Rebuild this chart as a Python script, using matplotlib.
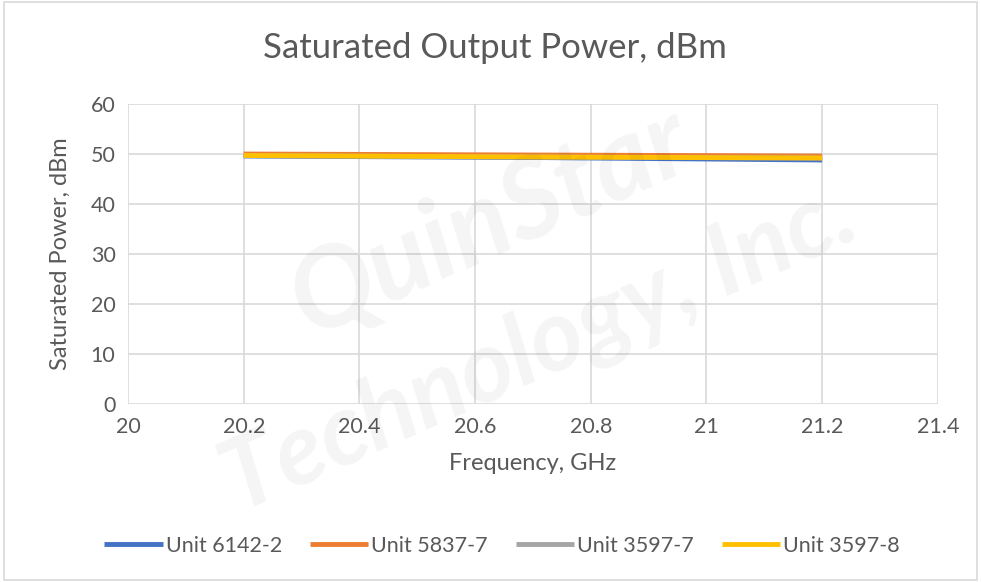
import matplotlib
matplotlib.use("Agg")
import matplotlib.pyplot as plt
from matplotlib.patches import Rectangle

freq = [20.2, 20.7, 21.2]
unit_6142_2 = [49.6, 49.3, 48.8]
unit_5837_7 = [50.0, 49.8, 49.6]
unit_3597_7 = [49.7, 49.4, 49.2]
unit_3597_8 = [49.7, 49.4, 49.2]
series_names = ["Unit 6142-2", "Unit 5837-7", "Unit 3597-7", "Unit 3597-8"]
series_colors = ["#4472C4", "#ED7D31", "#A5A5A5", "#FFC000"]
x_ticks = [20, 20.2, 20.4, 20.6, 20.8, 21, 21.2, 21.4]
x_tick_labels = ["20", "20.2", "20.4", "20.6", "20.8", "21", "21.2", "21.4"]
y_ticks = [0, 10, 20, 30, 40, 50, 60]

plt.rcParams['font.family'] = ['Lato', 'DejaVu Sans']
txt = "#595959"

fig = plt.figure(figsize=(9.81, 5.82), dpi=100)
fig.patches.append(Rectangle((0.004, 0.004), 0.992, 0.992, transform=fig.transFigure,
                             fill=False, edgecolor="#D9D9D9", lw=1.2))

# faint watermark
fig.text(0.50, 0.62, "QuinStar", fontsize=80, color="#000000", alpha=0.045,
         rotation=24, ha="center", va="center", fontweight="bold", style="italic", zorder=0)
fig.text(0.55, 0.40, "Technology, Inc.", fontsize=72, color="#000000", alpha=0.045,
         rotation=24, ha="center", va="center", fontweight="bold", style="italic", zorder=0)

ax = fig.add_axes([0.1305, 0.3058, 0.8255, 0.5155])
ax.set_facecolor("none")
data = [unit_6142_2, unit_5837_7, unit_3597_7, unit_3597_8]
for name, vals, c in zip(series_names, data, series_colors):
    ax.plot(freq, vals, color=c, lw=3.5, label=name, solid_capstyle="butt")

ax.set_xlim(20, 21.4)
ax.set_ylim(0, 60)
ax.set_xticks(x_ticks)
ax.set_xticklabels(x_tick_labels)
ax.set_yticks(y_ticks)
ax.grid(True, color="#D9D9D9", lw=1.2)
ax.set_axisbelow(True)
for s in ax.spines.values():
    s.set_visible(False)
ax.tick_params(length=0, labelsize=15.5, colors=txt, pad=9)
ax.set_xlabel("Frequency, GHz", fontsize=17, color=txt, labelpad=12)
ax.set_ylabel("Saturated Power, dBm", fontsize=17, color=txt, labelpad=14)
fig.text(0.505, 0.918, "Saturated Output Power, dBm", fontsize=25, color=txt, ha="center", va="center")

fig.legend(loc="center", bbox_to_anchor=(0.512, 0.062), ncol=4, frameon=False,
           fontsize=15.5, handlelength=2.7, handletextpad=0.15, columnspacing=1.3,
           labelcolor=txt)

fig.savefig("out.png", dpi=100)
